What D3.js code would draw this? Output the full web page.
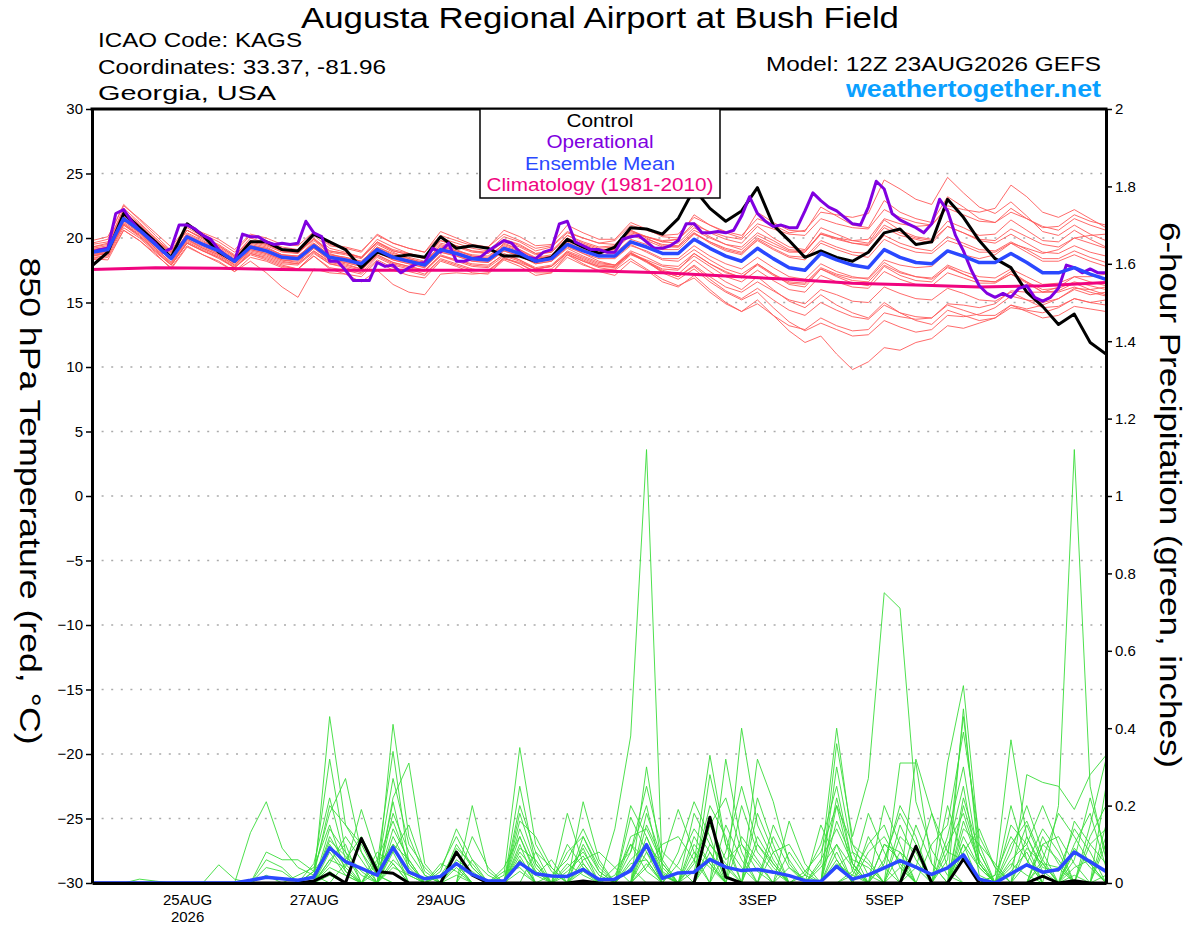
<!DOCTYPE html>
<html>
<head>
<meta charset="utf-8">
<script src="https://cdnjs.cloudflare.com/ajax/libs/d3/7.8.5/d3.min.js"></script>
<style>
  body { margin: 0; background: #fff; }
  text { font-family: "Liberation Sans", Arial, Helvetica, sans-serif; }
</style>
</head>
<body>
<svg id="meteogram" width="1200" height="927"></svg>
<script>
// ---- run info ----
var runStart = Date.UTC(2026, 7, 23, 12);   // 12Z 23AUG2026
var stepHours = 6;                          // ensemble output step
var opStepHours = 3;                        // operational output step

// ---- tick labels ----
var tempTicks = [-30, -25, -20, -15, -10, -5, 0, 5, 10, 15, 20, 25, 30];
var precipTicks = [0, 0.2, 0.4, 0.6, 0.8, 1, 1.2, 1.4, 1.6, 1.8, 2];
var dateTicks = ["2026-08-25", "2026-08-27", "2026-08-29", "2026-09-01", "2026-09-03", "2026-09-05", "2026-09-07"];
var dateLabels = ["25AUG", "27AUG", "29AUG", "1SEP", "3SEP", "5SEP", "7SEP"];
var yearLabel = "2026";

// ---- 850 hPa temperature (C), 6-hourly ----
var controlTemp = [17.85,18.9,21.9,20.8,19.7, 18.5,21.1,20.2,18.9,18.2, 19.7,19.7,19.1,19.0,20.3, 19.7,19.1,17.7,18.9,18.5,
  18.7,18.5,20.1,19.2,19.4, 19.2,18.6,18.6,18.2,18.5, 19.9,19.3,18.8,19.3,20.8, 20.7,20.3,21.5,23.8,22.3,
  21.3,22.1,23.9,21.0,19.8, 18.5,19.0,18.5,18.2,18.9, 20.4,20.7,19.5,19.7,23.0, 21.6,19.8,18.4,17.7,15.8,
  14.7,13.3,14.1,11.9,11.0];

var meanTemp = [18.9,19.1,21.5,20.6,19.5, 18.4,20.1,19.5,19.0,18.2, 19.3,19.0,18.5,18.4,19.4, 18.5,18.3,18.0,19.1,18.5,
  18.2,17.9,19.1,18.8,18.4, 18.3,19.2,18.8,18.2,18.4, 19.5,19.0,18.6,18.6,19.7, 19.3,18.8,18.8,19.9,19.2,
  18.6,18.2,19.2,18.4,17.7, 17.5,18.8,18.3,17.9,17.7, 19.1,18.5,18.1,18.0,19.0, 18.6,18.1,18.1,18.8,18.1,
  17.3,17.3,17.7,17.2,16.8];

// operational run, 3-hourly
var opTemp = [18.9,19.1,19.2,21.9,22.2, 21.3,20.6,20.1,19.6,18.9, 19.2,21.0,21.0,20.7,20.2, 19.9,19.1,18.6,18.2,20.3,
  20.1,20.1,19.7,19.5,19.6, 19.5,19.6,21.3,20.4,20.1, 18.2,18.2,17.5,16.7,16.7, 16.7,18.1,17.8,17.9,17.3,
  17.7,18.0,18.1,19.2,18.9, 19.6,18.2,18.2,18.4,18.5, 19.0,19.4,19.8,19.6,18.9, 18.5,18.4,18.9,19.1,21.1,
  21.3,19.7,19.4,19.1,19.1,
  18.9,18.9,19.9,20.1,20.2, 19.7,19.2,19.2,19.4,19.8, 21.1,21.1,20.4,20.4,20.5, 20.4,20.6,21.7,23.2,21.9,
  21.3,20.9,21.0,20.8,20.8, 22.1,23.5,22.9,22.4,22.1, 21.6,21.1,21.0,22.4,24.4, 23.8,21.9,21.4,21.1,20.8,
  20.4,21.1,23.0,22.1,20.2, 19.0,17.5,16.3,15.7,15.4, 15.7,15.4,16.1,16.3,15.4, 15.1,15.4,16.1,17.9,17.7,
  17.3,17.6,17.3,17.3];

// 1981-2010 climatology, daily (every 4th step)
var climTemp = [17.55,17.7,17.65,17.55,17.5,17.5,17.5,17.5,17.45,17.3,17.05,16.8,16.5,16.35,16.2,16.3,16.55];

var memberTemp = [
  [19.3,19.6,22.3,21.2,20.0, 18.9,20.8,20.1,19.4,18.6, 20.0,19.6,19.0,18.8,20.2, 19.2,18.9,18.5,19.9,19.3, 18.8,18.5,20.0,19.6,19.2, 19.0,20.1,19.7,19.0,19.3, 20.4,20.0,19.6,19.8,21.0, 20.6,20.2,20.3,21.6,21.0, 20.5,20.2,21.5,21.0,20.4, 20.6,22.0,21.8,21.6,21.9, 24.5,23.8,23.0,22.6,24.7, 23.5,22.4,21.9,22.8,21.7, 20.5,20.2,21.0,20.3,19.8],
  [18.5,18.6,20.8,20.0,18.9, 17.9,19.6,19.0,18.4,17.7, 18.8,18.4,17.9,17.6,18.8, 18.0,17.7,17.3,18.5,17.9, 17.6,17.2,18.4,18.0,17.6, 17.4,18.5,18.0,17.3,17.3, 18.7,18.0,17.4,17.1,18.2, 17.5,16.6,16.2,17.1,16.0, 15.0,14.3,15.2,14.0,12.8, 11.9,12.4,11.0,9.8,10.4, 11.5,11.3,11.9,12.2,13.2, 13.0,13.4,13.8,14.6,14.4, 14.2,14.6,15.3,15.0,15.2],
  [19.0,19.3,21.8,20.8,19.6, 18.5,20.4,19.8,19.1,18.3, 19.6,19.3,18.7,18.5,19.8, 18.8,18.4,18.1,19.5,18.9, 18.4,18.0,19.5,19.1,18.6, 18.4,19.6,19.1,18.4,18.6, 19.9,19.4,18.9,19.1,20.3, 19.9,19.5,19.4,20.6,20.0, 19.5,19.3,20.4,19.8,19.1, 19.0,20.3,20.0,19.6,19.4, 20.8,20.2,19.9,19.6,20.9, 20.4,19.9,19.8,20.7,20.1, 19.5,19.3,20.0,19.6,19.2],
  [19.2,19.4,21.9,21.0,19.9, 18.8,20.6,19.9,19.3,18.5, 19.7,19.4,18.9,18.8,19.9, 18.9,18.7,18.4,19.7,19.0, 18.7,18.4,19.8,19.4,19.0, 18.8,19.9,19.4,18.8,18.9, 20.2,19.6,19.2,19.3,20.6, 20.1,19.8,19.9,21.2,20.4, 19.9,19.6,20.9,20.0,19.3, 19.1,20.8,20.3,19.8,19.6, 21.4,20.6,20.1,19.9,21.3, 20.8,20.2,20.3,21.4,20.6, 19.8,19.7,20.6,19.9,19.3],
  [18.7,18.9,21.1,20.3,19.2, 18.1,19.8,19.2,18.7,17.9, 19.0,18.7,18.2,18.0,19.0, 18.2,18.0,17.6,18.7,18.1, 17.8,17.5,18.7,18.3,17.9, 17.8,18.8,18.3,17.6,17.8, 18.9,18.3,17.8,17.7,18.8, 18.2,17.5,17.2,18.3,17.4, 16.6,16.0,17.0,16.0,15.1, 14.6,15.6,14.8,14.2,13.8, 15.0,14.2,13.6,13.3,14.4, 14.0,13.6,13.8,14.8,14.5, 14.8,15.3,16.0,15.6,15.8],
  [19.6,19.9,22.6,21.4,20.2, 19.0,21.0,20.3,19.7,18.9, 20.2,19.8,19.3,19.1,20.4, 19.4,19.2,18.9,20.3,19.6, 19.2,18.9,20.5,20.0,19.5, 19.3,20.6,20.1,19.4,19.5, 21.0,20.4,19.9,19.9,21.2, 20.7,20.1,20.0,21.8,21.0, 20.4,20.0,22.0,21.2,20.6, 20.5,22.4,21.7,21.0,20.8, 22.9,22.0,21.5,21.2,23.2, 22.4,21.5,21.2,22.3,21.5, 20.9,20.6,21.5,21.0,20.6],
  [18.4,18.3,20.6,19.8,18.7, 17.7,19.4,18.7,18.1,17.4, 18.2,17.3,16.2,15.4,17.6, 17.3,17.2,17.0,18.2,17.5, 17.1,16.9,18.2,17.8,17.3, 17.2,18.3,17.8,17.1,17.3, 18.5,17.9,17.5,17.6,18.7, 18.2,17.6,17.5,18.8,18.0, 17.4,16.9,18.0,17.2,16.4, 16.2,17.6,17.0,16.5,16.3, 17.8,17.1,16.7,16.6,17.8, 17.2,16.7,16.6,17.4,16.6, 15.8,15.9,16.5,16.0,15.6],
  [18.8,19.0,21.3,20.5,19.3, 18.3,20.0,19.4,18.8,18.1, 19.2,18.9,18.4,18.3,19.3, 18.4,18.2,17.9,19.0,18.4, 18.1,17.8,19.0,18.7,18.3, 18.2,19.1,18.7,18.1,18.3, 19.4,18.8,18.2,17.9,18.9, 18.2,17.3,16.8,17.6,16.6, 15.8,15.2,15.8,14.6,13.5, 12.8,13.4,12.9,12.4,12.5, 13.6,13.1,12.7,12.9,14.0, 13.9,14.1,14.6,15.5,15.2, 15.0,15.3,16.1,16.0,16.2],
  [19.1,19.2,21.6,20.7,19.6, 18.6,20.2,19.6,19.1,18.3, 19.4,19.2,18.7,18.6,19.6, 18.7,18.5,18.2,19.3,18.7, 18.4,18.1,19.3,19.0,18.7, 18.6,19.5,19.1,18.5,18.7, 19.8,19.4,19.0,19.2,20.4, 20.1,19.7,19.9,21.0,20.5, 20.1,19.9,21.1,20.7,20.3, 20.2,21.5,21.1,20.8,20.7, 22.2,21.6,21.2,21.0,22.3, 21.8,21.3,21.2,22.0,21.5, 20.8,20.9,21.8,21.3,21.0],
  [18.6,18.8,21.0,20.2,19.1, 18.0,19.7,19.1,18.6,17.8, 18.9,18.6,18.1,18.0,19.0, 18.1,17.9,17.6,18.7,18.1, 17.8,17.5,18.6,18.3,18.0, 17.9,18.7,18.3,17.7,17.9, 19.0,18.5,18.0,17.9,19.0, 18.5,17.9,17.8,18.8,18.0, 17.3,17.0,17.9,17.1,16.5, 16.4,17.6,17.1,16.7,16.6, 17.9,17.3,17.0,16.9,17.9, 17.4,17.0,16.9,17.6,17.0, 16.4,16.5,17.0,16.6,16.3],
  [19.8,20.1,22.5,21.5,20.4, 19.3,20.9,20.4,19.9,19.1, 20.3,20.0,19.5,19.4,20.5, 19.5,19.3,19.0,20.2,19.6, 19.2,18.9,20.2,19.8,19.4, 19.3,20.3,19.8,19.2,19.4, 20.5,20.0,19.6,19.5,20.6, 20.0,19.4,19.3,20.4,19.6, 19.0,18.7,19.9,19.2,18.6, 18.5,19.8,19.3,18.9,18.8, 20.2,19.6,19.2,19.0,20.1, 19.6,19.1,19.0,19.7,19.1, 18.4,18.4,19.0,18.5,18.1],
  [18.7,19.0,21.4,20.4,19.4, 18.3,19.9,19.3,18.8,18.0, 19.1,18.8,18.3,18.2,19.2, 18.3,18.1,17.8,18.9,18.3, 18.0,17.7,18.9,18.6,18.2, 18.1,19.0,18.6,18.0,18.2, 19.2,18.6,18.1,17.9,18.8, 18.2,17.4,17.0,17.9,17.0, 16.2,15.8,16.6,15.9,15.2, 14.9,16.0,15.6,15.1,15.0, 16.2,15.7,15.3,15.2,16.1, 15.7,15.2,15.1,15.8,15.2, 14.6,14.7,15.3,15.0,14.8],
  [19.3,19.5,22.0,21.0,19.8, 18.8,20.6,20.0,19.4,18.6, 19.8,19.5,19.0,18.9,20.0, 19.0,18.8,18.5,19.7,19.1, 18.8,18.5,19.8,19.4,19.0, 18.9,19.9,19.5,18.8,19.0, 20.2,19.7,19.3,19.4,20.5, 20.1,19.7,19.6,20.8,20.1, 19.5,19.1,20.2,19.6,19.0, 18.9,20.3,19.9,19.6,19.5, 21.0,20.4,20.0,19.8,20.9, 20.4,19.8,19.6,20.3,19.6, 18.9,18.8,19.4,18.9,18.6],
  [18.3,18.5,20.6,19.8,18.8, 17.6,19.3,18.7,18.2,17.4, 18.5,18.2,17.7,17.6,18.6, 17.7,17.5,17.2,18.3,17.7, 17.4,17.1,18.3,17.9,17.5, 17.5,18.4,18.0,17.4,17.6, 18.7,18.2,17.8,17.8,18.8, 18.3,17.8,17.6,18.6,17.8, 17.0,16.6,17.5,16.7,16.0, 15.8,17.1,16.6,16.2,16.1, 17.4,16.8,16.4,16.3,17.3, 16.9,16.5,16.5,17.2,16.6, 16.0,16.1,16.6,16.3,16.0],
  [19.0,19.2,21.6,20.7,19.6, 18.5,20.2,19.6,19.1,18.3, 19.4,19.1,18.6,18.5,19.5, 18.6,18.4,18.1,19.2,18.6, 18.3,18.0,19.2,18.9,18.5, 18.4,19.3,18.9,18.3,18.5, 19.6,19.1,18.7,18.8,19.9, 19.5,19.1,19.1,20.3,19.7, 19.2,18.9,20.0,19.4,18.9, 18.9,20.4,20.0,19.8,19.9, 21.5,21.1,20.9,21.0,22.5, 22.2,22.0,22.3,24.1,23.2, 22.0,21.6,22.2,21.5,20.8],
  [18.6,18.9,21.2,20.4,19.2, 18.1,19.9,19.2,18.7,17.9, 19.1,18.8,18.3,18.1,19.2, 18.3,18.1,17.8,18.9,18.3, 18.0,17.7,18.9,18.6,18.2, 18.1,19.0,18.6,18.0,18.2, 19.3,18.8,18.4,18.4,19.4, 19.0,18.4,18.4,19.4,18.6, 18.0,17.6,18.5,17.7,17.0, 16.8,18.0,17.4,17.0,16.8, 18.1,17.4,17.0,16.8,17.7, 17.2,16.7,16.6,17.2,16.5, 15.8,15.8,16.2,15.8,15.5],
  [19.5,19.7,22.1,21.1,20.0, 18.9,20.6,20.0,19.5,18.7, 19.8,19.5,19.0,18.9,19.9, 19.0,18.8,18.5,19.6,19.0, 18.7,18.4,19.6,19.3,18.9, 18.8,19.7,19.3,18.7,18.9, 20.0,19.5,19.1,19.1,20.2, 19.8,19.3,19.3,20.4,19.7, 19.1,18.8,19.8,19.1,18.5, 18.3,19.6,19.1,18.7,18.5, 19.9,19.3,18.9,18.8,19.8, 19.4,18.9,18.9,19.6,18.9, 18.2,18.2,18.7,18.2,17.8],
  [18.4,18.7,21.0,20.1,19.0, 17.9,19.6,19.0,18.5,17.7, 18.7,18.3,17.8,17.6,18.6, 17.6,17.2,16.6,17.5,16.4, 15.8,15.6,17.2,17.3,17.2, 17.3,18.4,18.1,17.6,17.8, 18.9,18.4,17.9,17.8,18.8, 18.1,17.4,17.0,17.8,16.8, 15.9,15.3,16.1,15.2,14.4, 14.0,15.0,14.4,13.9,13.7, 14.8,14.2,13.9,13.8,14.8, 14.4,14.0,14.0,14.8,14.3, 13.8,14.0,14.7,14.5,14.3],
  [19.1,19.3,21.7,20.8,19.7, 18.6,20.3,19.7,19.2,18.4, 19.5,19.2,18.7,18.6,19.6, 18.7,18.5,18.2,19.3,18.8, 18.5,18.2,19.4,19.0,18.6, 18.5,19.4,19.0,18.4,18.6, 19.7,19.1,18.7,18.5,19.5, 18.9,18.3,18.2,19.1,18.3, 17.6,17.2,18.0,17.2,16.6, 16.5,17.7,17.2,16.9,16.9, 18.3,17.9,17.7,17.8,18.9, 18.7,18.4,18.7,19.6,19.2, 18.8,19.1,20.0,20.2,20.3],
  [18.6,18.8,21.1,20.2,19.0, 17.9,19.6,19.0,18.5,17.7, 18.8,18.5,18.0,17.9,18.9, 18.0,17.8,17.5,18.6,18.0, 17.7,17.4,18.6,18.2,17.8, 17.7,18.6,18.2,17.6,17.8, 18.8,18.2,17.7,17.5,18.4, 17.6,16.8,16.3,16.9,15.8, 14.9,14.3,14.9,14.0,13.2, 12.9,13.8,13.2,12.8,12.9, 14.2,13.9,13.7,13.8,14.9, 14.8,14.6,14.9,15.9,15.8, 15.8,16.2,17.0,17.0,17.2]
];

// ---- 6-hour precipitation (inches), 6-hourly ----
var controlPrecip = [0,0,0,0,0, 0,0,0,0,0, 0,0,0,0,.005, .025,0,.115,.03,.025,
  0,0,0,.08,.02, 0,0,0,0,0, 0,.005,0,0,0, 0,0,0,0,.17,
  .015,0,0,0,0, 0,0,0,0,0, 0,0,.095,0,0, .062,0,0,0,0,
  .018,0,.006,0,0];

var meanPrecip = [0,0,0,0,0, 0,0,0,0,0, .007,.015,.011,.007,.015, .091,.055,.038,.02,.092,
  .028,.011,.017,.05,.022, .005,.005,.052,.024,.018, .017,.035,.009,.01,.032, .099,.012,.026,.028,.061,
  .041,.032,.035,.028,.019, .006,.004,.043,.01,.021, .039,.058,.041,.022,.039, .073,.01,0,.024,.047,
  .028,.035,.08,.055,.03];

var memberPrecip = [
  [0,0,0,.01,.005, 0,0,0,0,0, 0,0,0,0,0, .12,.05,0,0,.14, .06,0,0,.04,0, 0,0,.08,.03,0, 0,0,0,.14,.38, 1.12,.025,0,0,.06, 0,0,.1,.05,0, 0,0,.08,0,0, 0,.04,0,0,0, .1,0,0,.05,.02, 0,0,.04,.06,.03],
  [0,0,0,0,0, 0,0,0,.047,.01, 0,0,0,0,0, .43,.15,.08,.02,0, 0,0,.03,.14,.06, 0,0,0,0,0, 0,.05,0,0,0, 0,0,.08,.21,.12, 0,0,0,0,0, 0,.05,.4,.1,.02, 0,0,0,0,.06, .43,.08,0,0,0, .05,.04,0,0,.02],
  [0,0,0,0,0, 0,0,0,0,0, .13,.21,.09,.04,.02, 0,0,0,0,.41, .12,.02,0,0,0, 0,0,.06,0,0, .18,.05,0,0,.04, 0,0,0,0,0, .32,.1,.03,0,0, 0,0,.36,.12,.27, .75,.71,.21,.085,.02, 0,0,0,.03,.08, 0,0,.02,0,0],
  [0,0,0,0,0, 0,0,0,0,0, 0,.08,.06,.06,.03, .32,.08,0,.05,.34, .05,0,0,0,.2, .03,0,0,0,0, 0,.21,.06,0,0, .3,.04,0,0,0, 0,.4,.15,.06,0, 0,0,0,0,0, 0,.31,.31,.05,0, 0,0,.02,.37,.12, .03,0,0,0,0],
  [0,0,0,0,0, 0,0,0,0,0, 0,0,0,0,.03, .18,.27,.08,0,.21, .03,0,0,0,0, 0,.02,.35,.1,.03, 0,0,0,0,.17, .08,0,0,.05,.33, .1,0,0,0,.16, .05,0,0,.03,.18, .08,0,0,0,.31, .51,.1,0,0,0, 0,.2,1.12,.25,.06],
  [0,0,0,0,0, 0,0,0,0,0, 0,0,0,0,0, .1,.04,.19,.06,.08, 0,0,.02,.05,0, 0,0,.18,.05,0, .04,.08,.02,0,0, .15,.06,.19,.08,0, 0,0,.32,.21,.05, 0,.15,.06,0,0, 0,0,.32,.18,.04, 0,0,0,0,.28, .26,.25,.19,.28,.33],
  [0,0,0,0,0, 0,0,0,0,0, 0,.04,.03,0,0, .06,.1,0,0,.22, .31,.05,0,0,0, 0,0,.14,.04,0, 0,0,0,0,.08, .2,.02,0,0,.15, .22,.08,0,0,0, 0,0,.22,.05,0, .2,.1,0,0,0, .45,.05,0,0,0, .1,.06,0,.15,.32],
  [0,0,0,0,0, 0,0,0,0,0, 0,0,0,0,0, .08,.02,0,0,.12, .04,0,0,.06,.03, 0,0,.1,0,0, 0,.12,.03,0,0, .12,.02,0,.1,.05, 0,0,0,.12,.04, 0,0,0,.02,.1, .15,.04,0,0,0, .2,.06,0,.15,.1, 0,0,.08,.05,0],
  [0,0,0,0,0, 0,0,0,0,0, 0,0,0,.02,.04, .15,.03,0,.08,.05, 0,0,.05,.03,0, 0,.04,.12,.02,.06, 0,0,0,.02,.1, .06,0,.05,.14,.08, 0,.12,.06,0,0, .03,.08,.2,.03,0, 0,.12,.08,0,0, .12,.04,0,0,.05, .14,.08,0,0,.1],
  [0,0,0,0,0, 0,0,0,0,0, 0,0,0,0,.05, .22,.06,.12,.04,.1, 0,0,0,.09,.05, 0,0,.06,0,0, .1,.04,0,0,.06, .1,0,0,.03,.2, .12,0,0,0,.08, .02,0,.16,.06,.04, 0,0,0,.1,.15, .39,.12,.04,0,0, .06,.18,.12,.05,0],
  [0,0,0,0,0, 0,0,0,0,0, 0,.02,0,0,0, .05,.12,.06,0,.18, .08,.02,0,0,.12, .04,0,0,.08,.04, 0,.1,.03,0,0, .04,.1,.12,.06,0, 0,0,.18,.08,0, 0,.04,.1,0,0, .05,.2,.12,0,0, .16,.05,0,.1,.16, .06,0,0,.12,.2],
  [0,0,0,0,0, 0,0,0,0,0, 0,0,0,0,0, .14,.08,.03,0,.06, .02,0,.04,.12,.04, 0,0,.2,.08,0, .05,.02,0,0,.12, .14,.05,0,0,0, .08,.25,.1,.04,0, 0,0,.05,.02,0, .1,.06,0,0,.08, .25,.02,0,.08,.2, .08,0,.06,.22,.08],
  [0,0,0,0,0, 0,0,0,0,0, 0,0,0,0,0, .04,.02,0,.03,.27, .1,.04,0,0,0, 0,.03,.04,0,.02, .06,.14,.05,0,0, .05,0,0,.18,.1, .04,0,0,.15,.06, 0,0,.04,.08,.05, 0,0,.15,.05,0, .08,.14,.04,0,0, .12,.05,0,0,.15],
  [0,0,0,0,0, 0,0,0,0,0, 0,0,0,0,.02, .2,.15,.1,.02,0, 0,0,.02,.08,.02, 0,0,.16,.12,.04, 0,0,0,.04,.08, .25,.08,.04,0,.28, .1,.04,0,0,0, .02,.1,.25,.05,0, 0,.15,.06,0,.12, .3,.05,0,.2,.06, 0,0,.1,.18,.04],
  [0,0,0,0,0, 0,0,0,0,0, 0,0,0,0,0, .03,0,0,0,.08, .15,.03,0,.02,0, 0,0,.03,0,0, 0,.06,.08,.04,0, .08,.02,0,0,0, .15,.06,0,0,.04, .01,0,0,0,.08, .12,.05,0,0,.2, .06,0,0,0,.12, .04,.03,.14,.08,0],
  [0,0,0,0,0, 0,0,0,0,0, 0,0,0,0,0, 0,.05,.04,0,.1, .06,0,0,0,.06, .02,0,.09,.06,0, .03,.07,0,0,.2, .12,.03,0,.12,.05, 0,.2,.08,.03,0, 0,0,.1,.04,0, .06,.18,.1,0,0, .1,.04,0,.06,.1, .2,.1,0,0,.12],
  [0,0,0,0,0, 0,0,0,0,0, 0,0,0,0,0, .06,.04,0,0,.05, 0,0,0,.1,.04, 0,0,.25,.05,0, 0,.04,0,0,0, .1,.05,0,0,.1, .05,0,.22,.1,0, 0,0,.3,.08,0, 0,0,.04,.18,.08, .06,0,.02,.12,.06, 0,0,.16,.1,.05],
  [0,0,0,0,0, 0,0,0,0,0, 0,0,0,0,.03, .09,.03,0,.06,.16, .05,0,0,0,0, 0,0,.05,.02,0, .08,.12,.04,0,0, .18,.06,0,.08,.04, 0,0,.12,.05,0, 0,.06,.14,.05,0, .1,.08,0,0,0, .14,.1,.05,0,0, .1,.12,.05,0,.25],
  [0,0,0,0,0, 0,0,0,0,0, 0,0,0,0,0, .02,0,0,0,.04, .02,0,0,0,0, 0,0,.07,0,0, 0,.03,0,0,.05, .06,0,0,0,.08, .02,0,0,.08,.1, .03,0,.06,0,.12, .04,0,0,0,.1, .18,.05,0,.04,.15, .05,0,.09,.04,0],
  [0,0,0,0,0, 0,0,0,0,0, 0,.06,.04,0,0, .11,.07,.02,0,.09, .03,0,0,.05,0, 0,0,.12,.03,0, .02,.09,0,0,.1, .03,0,0,.06,.15, .06,.1,.05,0,0, 0,0,.2,.1,.06, 0,.08,.04,0,0, .22,.08,0,0,.09, .05,0,0,.1,.14]
];

// ---- layout ----
var plot = { left: 92, right: 1106, top: 109, bottom: 883 };
var HOUR = 3600 * 1000;

var colors = {
  member: "#ff5a5a",
  precip: "#3adc3a",
  control: "#000000",
  op: "#8000e0",
  mean: "#2a48ff",
  clim: "#f0047f",
  grid: "#aaaaaa",
  site: "#0aa0ff"
};

var svg = d3.select("#meteogram");

var x = d3.scaleUtc()
  .domain([runStart, runStart + 64 * stepHours * HOUR])
  .range([plot.left, plot.right]);
var yT = d3.scaleLinear().domain([-30, 30]).range([plot.bottom, plot.top]);
var yP = d3.scaleLinear().domain([0, 2]).range([plot.bottom, plot.top]);

function stepTime(i) { return runStart + i * stepHours * HOUR; }

var tempLine = d3.line()
  .x(function(d, i) { return x(stepTime(i)); })
  .y(function(d) { return yT(d); });
var opLine = d3.line()
  .x(function(d, i) { return x(runStart + i * opStepHours * HOUR); })
  .y(function(d) { return yT(d); });
var climLine = d3.line()
  .x(function(d, i) { return x(runStart + i * 24 * HOUR); })
  .y(function(d) { return yT(d); });
var precipLine = d3.line()
  .x(function(d, i) { return x(stepTime(i)); })
  .y(function(d) { return yP(d); });

// text helper: the source font runs wider than Liberation Sans,
// so stretch each string to the width it has in the original
function stretchText(sel, width) {
  return sel.attr("textLength", width).attr("lengthAdjust", "spacingAndGlyphs");
}

// ---- header text ----
stretchText(svg.append("text").attr("x", 600).attr("y", 28)
  .attr("text-anchor", "middle").attr("font-size", 29)
  .text("Augusta Regional Airport at Bush Field"), 598);

var headLeft = [
  { t: "ICAO Code: KAGS", w: 204 },
  { t: "Coordinates: 33.37, -81.96", w: 288 },
  { t: "Georgia, USA", w: 178 }
];
svg.selectAll("text.head-left").data(headLeft).enter()
  .append("text").attr("class", "head-left")
  .attr("x", 98).attr("y", function(d, i) { return 47 + i * 26.5; })
  .attr("font-size", 21)
  .attr("textLength", function(d) { return d.w; })
  .attr("lengthAdjust", "spacingAndGlyphs")
  .text(function(d) { return d.t; });

stretchText(svg.append("text").attr("x", 1101).attr("y", 71)
  .attr("text-anchor", "end").attr("font-size", 21)
  .text("Model: 12Z 23AUG2026 GEFS"), 335);
stretchText(svg.append("text").attr("x", 1101).attr("y", 97)
  .attr("text-anchor", "end").attr("font-size", 23).attr("font-weight", "bold")
  .attr("fill", colors.site)
  .text("weathertogether.net"), 255);

// ---- gridlines ----
svg.append("g").attr("class", "grid")
  .selectAll("line").data(tempTicks.filter(function(t) { return t > -30 && t < 30; }))
  .enter().append("line")
    .attr("x1", plot.left).attr("x2", plot.right)
    .attr("y1", function(d) { return yT(d); })
    .attr("y2", function(d) { return yT(d); })
    .attr("stroke", colors.grid).attr("stroke-width", 1.4)
    .attr("stroke-dasharray", "2,7.6");

// ---- data lines ----
svg.append("clipPath").attr("id", "plot-clip")
  .append("rect")
    .attr("x", plot.left).attr("y", plot.top)
    .attr("width", plot.right - plot.left).attr("height", plot.bottom - plot.top);

var lines = svg.append("g").attr("clip-path", "url(#plot-clip)");

lines.selectAll("path.member-temp").data(memberTemp).enter()
  .append("path").attr("class", "member-temp")
  .attr("d", tempLine)
  .attr("fill", "none").attr("stroke", colors.member).attr("stroke-width", 0.9);

lines.selectAll("path.member-precip").data(memberPrecip).enter()
  .append("path").attr("class", "member-precip")
  .attr("d", precipLine)
  .attr("fill", "none").attr("stroke", colors.precip).attr("stroke-width", 0.9);

lines.append("path").attr("d", climLine(climTemp))
  .attr("fill", "none").attr("stroke", colors.clim).attr("stroke-width", 3);

lines.append("path").attr("d", tempLine(controlTemp))
  .attr("fill", "none").attr("stroke", colors.control).attr("stroke-width", 3)
  .attr("stroke-linejoin", "round");
lines.append("path").attr("d", precipLine(controlPrecip))
  .attr("fill", "none").attr("stroke", colors.control).attr("stroke-width", 3)
  .attr("stroke-linejoin", "round");

lines.append("path").attr("d", opLine(opTemp))
  .attr("fill", "none").attr("stroke", colors.op).attr("stroke-width", 3)
  .attr("stroke-linejoin", "round");

lines.append("path").attr("d", tempLine(meanTemp))
  .attr("fill", "none").attr("stroke", colors.mean).attr("stroke-width", 3.5)
  .attr("stroke-linejoin", "round");
lines.append("path").attr("d", precipLine(meanPrecip))
  .attr("fill", "none").attr("stroke", colors.mean).attr("stroke-width", 3.5)
  .attr("stroke-linejoin", "round");

// ---- axes ----
var leftAxis = svg.append("g")
  .attr("transform", "translate(" + plot.left + ",0)")
  .call(d3.axisLeft(yT).tickValues(tempTicks).tickSize(6).tickPadding(3).tickSizeOuter(0));
var rightAxis = svg.append("g")
  .attr("transform", "translate(" + plot.right + ",0)")
  .call(d3.axisRight(yP).tickValues(precipTicks).tickSize(6).tickPadding(3).tickSizeOuter(0)
    .tickFormat(d3.format("~g")));
var bottomAxis = svg.append("g")
  .attr("transform", "translate(0," + plot.bottom + ")")
  .call(d3.axisBottom(x)
    .tickValues(dateTicks.map(function(d) { return new Date(d + "T00:00:00Z"); }))
    .tickFormat(function(d, i) { return dateLabels[i]; })
    .tickSize(0).tickPadding(11).tickSizeOuter(0));

[leftAxis, rightAxis, bottomAxis].forEach(function(ax) {
  ax.select(".domain").attr("stroke-width", 3);
  ax.selectAll(".tick line").attr("stroke-width", 1.5);
  ax.selectAll("text").attr("font-size", 15).attr("fill", "#000")
    .attr("font-family", "Liberation Sans, Arial, sans-serif");
});

bottomAxis.select(".tick text")
  .append("tspan").attr("x", 0).attr("dy", "1.15em").text(yearLabel);

// top border
svg.append("line")
  .attr("x1", plot.left - 1.5).attr("x2", plot.right + 1.5)
  .attr("y1", plot.top).attr("y2", plot.top)
  .attr("stroke", "#000").attr("stroke-width", 3);

// axis titles
stretchText(svg.append("text")
  .attr("transform", "translate(20,501) rotate(90)")
  .attr("text-anchor", "middle").attr("font-size", 30)
  .text("850 hPa Temperature (red, \u00B0C)"), 487);
stretchText(svg.append("text")
  .attr("transform", "translate(1160,495) rotate(90)")
  .attr("text-anchor", "middle").attr("font-size", 30)
  .text("6-hour Precipitation (green, inches)"), 546);

// ---- legend ----
var legendItems = [
  { label: "Control", color: colors.control, w: 67 },
  { label: "Operational", color: colors.op, w: 107 },
  { label: "Ensemble Mean", color: colors.mean, w: 150 },
  { label: "Climatology (1981-2010)", color: colors.clim, w: 227 }
];
var legend = svg.append("g").attr("class", "legend");
legend.append("rect")
  .attr("x", 480).attr("y", plot.top).attr("width", 240).attr("height", 89)
  .attr("fill", "#fff").attr("stroke", "#000").attr("stroke-width", 1.5);
legend.selectAll("text").data(legendItems).enter()
  .append("text")
    .attr("x", 600).attr("y", function(d, i) { return 127 + i * 21.3; })
    .attr("text-anchor", "middle").attr("font-size", 17.5)
    .attr("fill", function(d) { return d.color; })
    .attr("textLength", function(d) { return d.w; })
    .attr("lengthAdjust", "spacingAndGlyphs")
    .text(function(d) { return d.label; });
</script>
</body>
</html>
